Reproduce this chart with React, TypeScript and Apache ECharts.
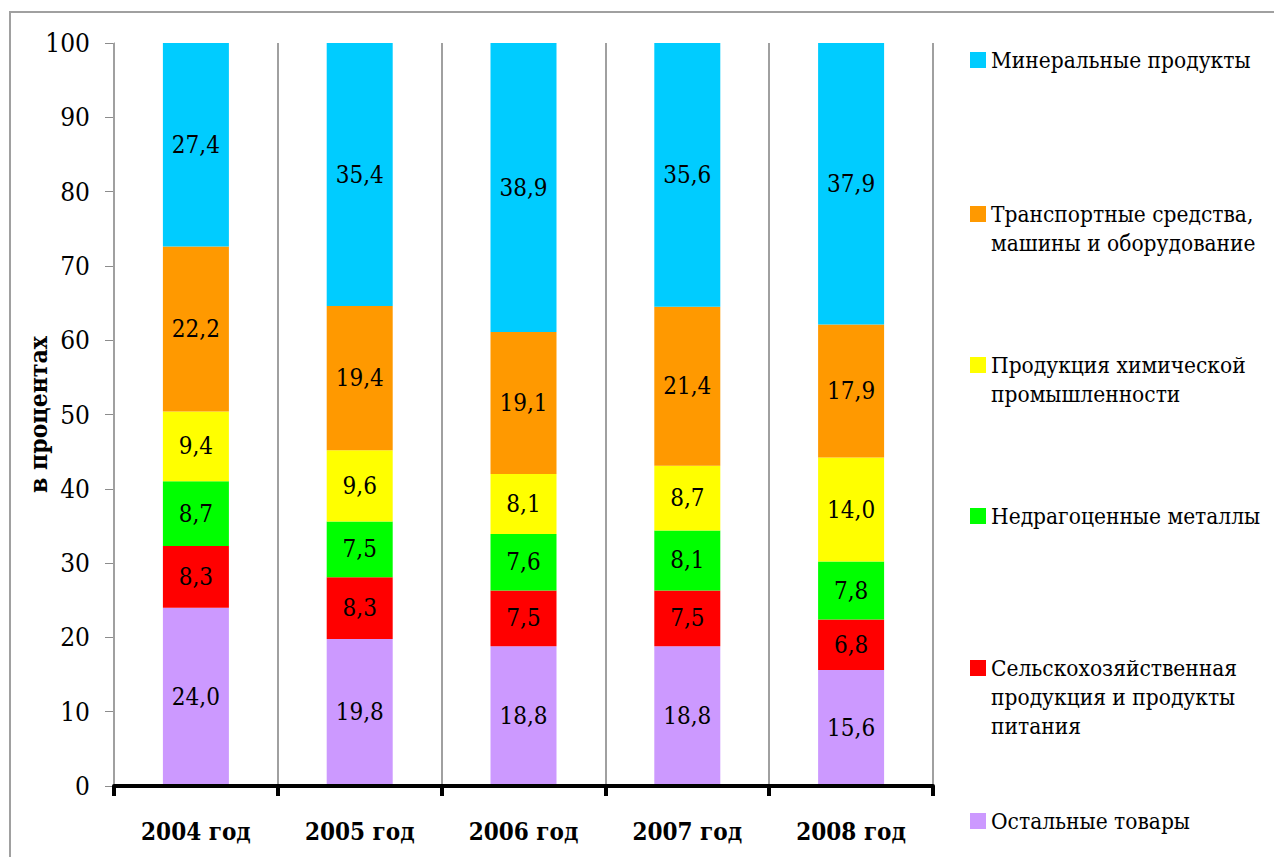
import React, { useEffect, useRef } from "react";
import * as echarts from "echarts";

const categories = ["2004 год", "2005 год", "2006 год", "2007 год", "2008 год"];

const seriesNames = [
  "Остальные товары",
  "Сельскохозяйственная\nпродукция и продукты\nпитания",
  "Недрагоценные металлы",
  "Продукция химической\nпромышленности",
  "Транспортные средства,\nмашины и оборудование",
  "Минеральные продукты",
];

const otherGoods = [24.0, 19.8, 18.8, 18.8, 15.6];
const agriFood = [8.3, 8.3, 7.5, 7.5, 6.8];
const baseMetals = [8.7, 7.5, 7.6, 8.1, 7.8];
const chemicals = [9.4, 9.6, 8.1, 8.7, 14.0];
const transport = [22.2, 19.4, 19.1, 21.4, 17.9];
const minerals = [27.4, 35.4, 38.9, 35.6, 37.9];

const seriesValues = [otherGoods, agriFood, baseMetals, chemicals, transport, minerals];
const seriesColors = ["#CC99FF", "#FF0000", "#00FF00", "#FFFF00", "#FF9900", "#00CCFF"];

const yTicks = { min: 0, max: 100, interval: 10 };

const FONT = "'DejaVu Serif Condensed', 'DejaVu Serif', serif";

// legend centre positions (px) for each series
const legendCenters = [821, 668, 516, 365, 214, 60];

export default function App() {
  const ref = useRef<HTMLDivElement>(null);

  useEffect(() => {
    if (!ref.current) return;
    const chart = echarts.init(ref.current, undefined, { renderer: "svg" });
    const L = 29;
    const legends = seriesNames.map((name, i) => {
      const n = name.split("\n").length;
      const offset = ((2 * n - 1) * L) / 2 - 8;
      return {
        show: true,
        data: [name],
        left: 970,
        top: legendCenters[i] - 8 - offset,
        padding: 0,
        orient: "vertical",
        icon: "rect",
        itemWidth: 16,
        itemHeight: 16,
        itemGap: 0,
        selectedMode: false,
        formatter: (nm: string) => "\n".repeat(n - 1) + nm,
        textStyle: {
          fontFamily: FONT,
          fontSize: 22.5,
          color: "#000",
          lineHeight: L,
        },
      };
    });

    chart.setOption({
      animation: false,
      backgroundColor: "#fff",
      graphic: [
        {
          type: "rect",
          shape: { x: 10, y: 12, width: 1290, height: 870 },
          style: { fill: "none", stroke: "#a0a0a0", lineWidth: 2 },
          silent: true,
          z: -10,
        },
      ],
      legend: legends,
      grid: { left: 114, right: 341, top: 43, bottom: 71, containLabel: false },
      xAxis: {
        type: "category",
        data: categories,
        boundaryGap: true,
        axisLine: { show: true, lineStyle: { color: "#000", width: 4 } },
        axisTick: { show: true, length: 10, lineStyle: { color: "#000", width: 4 } },
        axisLabel: {
          fontFamily: FONT,
          fontSize: 24,
          fontWeight: "bold",
          color: "#000",
          margin: 33,
        },
        splitLine: { show: true, lineStyle: { color: "#a0a0a0", width: 2 } },
        z: 5,
      },
      yAxis: {
        type: "value",
        min: yTicks.min,
        max: yTicks.max,
        interval: yTicks.interval,
        name: "в процентах",
        nameLocation: "middle",
        nameGap: 63,
        nameMoveOverlap: false,
        nameRotate: 90,
        nameTextStyle: { fontFamily: FONT, fontSize: 24.5, fontWeight: "bold", color: "#000" },
        axisLine: { show: true, lineStyle: { color: "#8c8c8c", width: 1 } },
        axisTick: { show: true, length: 9, lineStyle: { color: "#8c8c8c", width: 1 } },
        axisLabel: { fontFamily: FONT, fontSize: 26, color: "#000", margin: 24 },
        splitLine: { show: false },
      },
      series: seriesNames.map((name, i) => ({
        name,
        type: "bar",
        stack: "total",
        barWidth: 66,
        data: seriesValues[i],
        itemStyle: { color: seriesColors[i] },
        label: {
          show: true,
          position: "inside",
          fontFamily: FONT,
          fontSize: 24,
          color: "#000",
          formatter: (p: any) => Number(p.value).toFixed(1).replace(".", ","),
        },
      })),
    });
    return () => chart.dispose();
  }, []);

  return (
    <div
      ref={ref}
      style={{ position: "absolute", left: 0, top: 0, width: 1274, height: 857 }}
    />
  );
}
